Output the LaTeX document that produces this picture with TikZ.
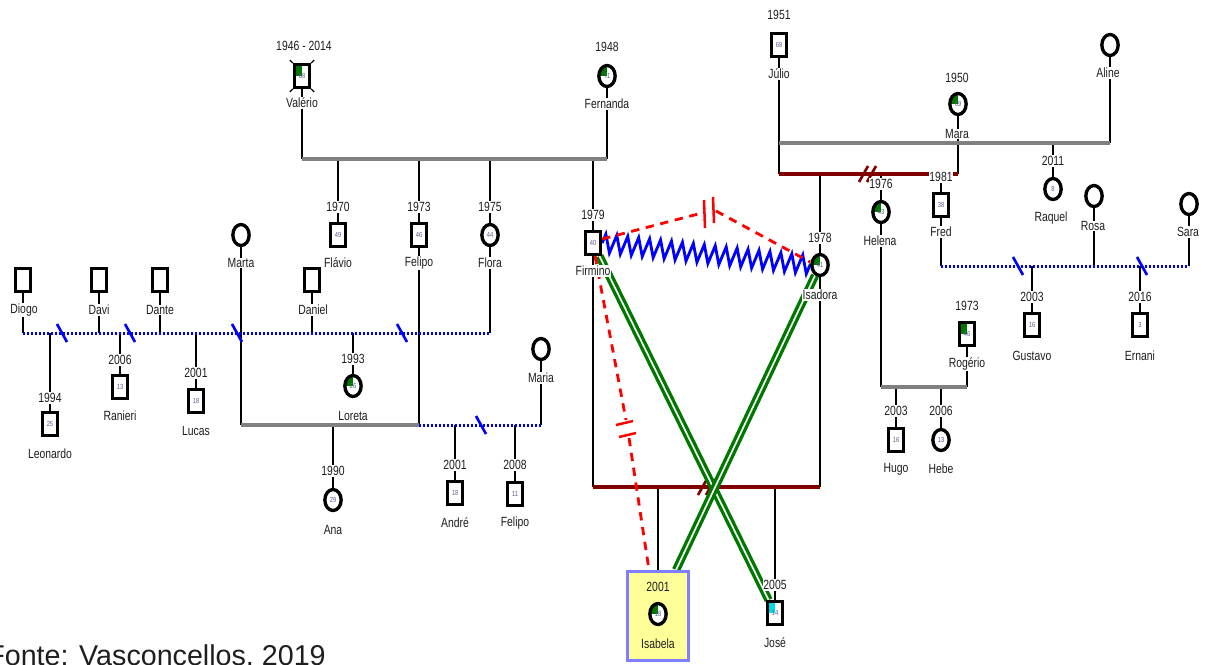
\documentclass[tikz,border=0pt]{standalone}
\usepackage{fontspec}
\usetikzlibrary{shapes.geometric,decorations.pathmorphing,calc}
\newfontfamily\gf[FakeStretch=0.78]{Liberation Sans}
\newfontfamily\cf{Liberation Sans}
\newcommand\labfont{\gf\fontsize{8}{9}\selectfont}
\newcommand\agefont{\gf\fontsize{4.4}{5}\selectfont}
\definecolor{qgreen}{RGB}{0,120,0}
\definecolor{qcyan}{RGB}{0,220,230}
\definecolor{grayc}{RGB}{128,128,128}
\definecolor{dred}{RGB}{128,0,0}
\definecolor{labc}{RGB}{30,30,30}
\definecolor{agec}{RGB}{90,90,140}
\definecolor{boxy}{RGB}{255,255,153}
\definecolor{boxb}{RGB}{128,128,255}
\pgfdeclarelayer{bg}
\pgfsetlayers{bg,main}
\tikzset{
 sym/.style={draw=black, line width=2pt, fill=white, inner sep=0pt, font=\agefont, text=agec},
 sq/.style={sym, rectangle, minimum width=9pt, minimum height=13.5pt},
 ci/.style={sym, ellipse, minimum width=9.8pt, minimum height=12.6pt},
 gq/.style={path picture={\fill[qgreen] (path picture bounding box.center) rectangle (path picture bounding box.north west);}},
 cq/.style={path picture={\fill[qcyan] (path picture bounding box.center) rectangle (path picture bounding box.north west);}},
 lab/.style={font=\labfont, fill=white, inner sep=0.5pt, text=labc},
 blk/.style={draw=black, line width=1.7pt},
 gry/.style={draw=grayc, line width=2.4pt},
 bdot/.style={draw=blue, line width=1.8pt, dash pattern=on 1.4pt off 1pt},
 bsl/.style={draw=blue, line width=1.6pt},
 drl/.style={draw=dred, line width=2.4pt},
 dsl/.style={draw=dred, line width=1.6pt},
 rdash/.style={draw=red, line width=1.7pt, dash pattern=on 5pt off 4pt},
 rbar/.style={draw=red, line width=1.5pt},
 zz/.style={draw=blue, line width=1.7pt, decorate, decoration={zigzag, segment length=6.6pt, amplitude=5.5pt}},
 grn/.style={draw=qgreen, line width=2pt, double=white, double distance=1pt},
 tick/.style={draw=black, line width=0.8pt},
}
\begin{document}
\begin{tikzpicture}[x=0.6pt,y=-0.6pt]
\useasboundingbox (0,0) rectangle (1208,664);
% ---------- persons: top generation ----------
\node[sq,gq] (val) at (302,76) {68};
\node[lab] (valy) at (304,46) {1946 - 2014};
\node[lab] (valn) at (302,103) {Valério};
\node[ci,gq] (fer) at (607,76) {71};
\node[lab] (fery) at (607,47) {1948};
\node[lab] (fern) at (607,104) {Fernanda};
\node[sq] (fla) at (338,235) {49};
\node[lab] (flay) at (338,207) {1970};
\node[lab] (flan) at (338,263) {Flávio};
\node[sq] (fel) at (419,235) {46};
\node[lab] (fely) at (419,207) {1973};
\node[lab] (feln) at (419,263) {Felipo};
\node[ci] (flo) at (490,235) {44};
\node[lab] (floy) at (490,207) {1975};
\node[lab] (flon) at (490,263) {Flora};
\node[sq] (fir) at (593,243) {40};
\node[lab] (firy) at (593,215) {1979};
\node[lab] (firn) at (593,271) {Firmino};
% ---------- left ----------
\node[sq] (dio) at (23,280) {};
\node[lab] (dion) at (24,310) {Diogo};
\node[sq] (dav) at (99,280) {};
\node[lab] (davn) at (99,310) {Davi};
\node[sq] (dte) at (160,280) {};
\node[lab] (dten) at (160,310) {Dante};
\node[ci] (mta) at (241,235) {};
\node[lab] (mtan) at (241,263) {Marta};
\node[sq] (dnl) at (312,280) {};
\node[lab] (dnln) at (313,310) {Daniel};
\node[sq] (leo) at (50,424) {25};
\node[lab] (leoy) at (50,398) {1994};
\node[lab] (leon) at (50,454) {Leonardo};
\node[sq] (ran) at (120,387) {13};
\node[lab] (rany) at (120,360) {2006};
\node[lab] (rann) at (120,416) {Ranieri};
\node[sq] (luc) at (196,401) {18};
\node[lab] (lucy) at (196,373) {2001};
\node[lab] (lucn) at (196,431) {Lucas};
\node[ci,gq] (lor) at (353,386) {26};
\node[lab] (lory) at (353,359) {1993};
\node[lab] (lorn) at (353,416) {Loreta};
\node[ci] (ana) at (333,500) {29};
\node[lab] (anay) at (333,471) {1990};
\node[lab] (anan) at (333,530) {Ana};
\node[ci] (mai) at (541,349) {};
\node[lab] (main) at (541,378) {Maria};
\node[sq] (and) at (455,493) {18};
\node[lab] (andy) at (455,465) {2001};
\node[lab] (andn) at (455,523) {André};
\node[sq] (fe2) at (515,494) {11};
\node[lab] (fe2y) at (515,465) {2008};
\node[lab] (fe2n) at (515,523) {Felipo};
% ---------- centre ----------
\node[ci,gq] (isa) at (820,265) {41};
\node[lab] (isay) at (820,238) {1978};
\node[lab] (isan) at (820,295) {Isadora};
\node[draw=boxb, line width=1.8pt, fill=boxy, inner sep=0pt, minimum width=36.6pt, minimum height=53.4pt] (isabox) at (658,616) {};
\node[ci,gq] (isb) at (658,614) {18};
\node[lab,fill=none] (isby) at (658,587) {2001};
\node[lab,fill=none] (isbn) at (658,644) {Isabela};
\node[sq,cq] (jos) at (775,613) {14};
\node[lab] (josy) at (775,585) {2005};
\node[lab] (josn) at (775,643) {José};
% ---------- right ----------
\node[sq] (jul) at (779,45) {68};
\node[lab] (july) at (779,15) {1951};
\node[lab] (juln) at (779,74) {Júlio};
\node[ci,gq] (mra) at (958,104) {69};
\node[lab] (mray) at (957,78) {1950};
\node[lab] (mran) at (957,134) {Mara};
\node[ci] (ali) at (1110,45) {};
\node[lab] (alin) at (1108,73) {Aline};
\node[ci] (raq) at (1053,189) {8};
\node[lab] (raqy) at (1053,161) {2011};
\node[lab] (raqn) at (1051,218) {Raquel};
\node[ci,gq] (hel) at (881,212) {43};
\node[lab] (hely) at (881,184) {1976};
\node[lab] (heln) at (880,241) {Helena};
\node[sq] (fre) at (941,205) {38};
\node[lab] (frey) at (941,177) {1981};
\node[lab] (fren) at (941,232) {Fred};
\node[ci] (ros) at (1094,196) {};
\node[lab] (rosn) at (1093,226) {Rosa};
\node[ci] (sar) at (1189,204) {};
\node[lab] (sarn) at (1188,232) {Sara};
\node[sq] (gus) at (1032,325) {16};
\node[lab] (gusy) at (1032,297) {2003};
\node[lab] (gusn) at (1032,356) {Gustavo};
\node[sq] (ern) at (1140,325) {3};
\node[lab] (erny) at (1140,297) {2016};
\node[lab] (ernn) at (1140,356) {Ernani};
\node[sq,gq] (rog) at (967,334) {46};
\node[lab] (rogy) at (967,306) {1973};
\node[lab] (rogn) at (967,364) {Rogério};
\node[sq] (hug) at (896,440) {16};
\node[lab] (hugy) at (896,411) {2003};
\node[lab] (hugn) at (896,469) {Hugo};
\node[ci] (heb) at (941,440) {13};
\node[lab] (heby) at (941,411) {2006};
\node[lab] (hebn) at (941,469) {Hebe};
% deceased ticks on Valério
\draw[tick] (val.north west) -- ++(-3,-3);
\draw[tick] (val.north east) -- ++(3,-3);
\draw[tick] (val.south west) -- ++(-3,3);
\draw[tick] (val.south east) -- ++(3,3);
% caption
\node[anchor=base west, inner sep=0pt, font=\cf\fontsize{17.2}{19}\selectfont, text=labc] (src) at (-13,665) {Fonte: Vasconcellos, 2019};
% ---------- coordinates ----------
\coordinate (vf1) at (302,159); \coordinate (vf2) at (607,159);
\coordinate (bl1) at (23,333);  \coordinate (bl2) at (490,333);
\coordinate (mf1) at (241,425); \coordinate (mf2) at (419,425);
\coordinate (fm2) at (541,425);
\coordinate (fi1) at (593,487); \coordinate (fi2) at (820,487);
\coordinate (ja1) at (779,143); \coordinate (ja2) at (1110,143);
\coordinate (jm1) at (779,174); \coordinate (jm2) at (958,174);
\coordinate (hr1) at (881,387); \coordinate (hr2) at (967,387);
\coordinate (fs1) at (941,266); \coordinate (fs2) at (1189,266);
\coordinate (rk1) at (702,213); \coordinate (rk2) at (716,211);
\coordinate (rk3) at (626,420); \coordinate (rk4) at (629,438);
% ---------- connectors ----------
\begin{pgfonlayer}{bg}
% Valério - Fernanda
\draw[blk] (val) -- (vf1);
\draw[blk] (fer) -- (vf2);
\draw[blk] (fla) -- (fla |- vf1);
\draw[blk] (fel) -- (fel |- vf1);
\draw[blk] (flo) -- (flo |- vf1);
\draw[blk] (fir) -- (fir |- vf1);
\draw[gry] (vf1) -- (vf2);
% left relationships
\draw[blk] (dio) -- (bl1);
\draw[blk] (dav) -- (dav |- bl1);
\draw[blk] (dte) -- (dte |- bl1);
\draw[blk] (dnl) -- (dnl |- bl1);
\draw[blk] (flo) -- (bl2);
\draw[blk] (leo) -- (leo |- bl1);
\draw[blk] (ran) -- (ran |- bl1);
\draw[blk] (luc) -- (luc |- bl1);
\draw[blk] (lor) -- (lor |- bl1);
\draw[blk] (mta) -- (mf1);
\draw[blk] (fel) -- (mf2);
\draw[blk] (ana) -- (ana |- mf1);
\draw[blk] (mai) -- (fm2);
\draw[blk] (and) -- (and |- mf1);
\draw[blk] (fe2) -- (fe2 |- mf1);
\draw[gry] (mf1) -- (mf2);
\draw[bdot] (bl1) -- (bl2);
\draw[bdot] (mf2) -- (fm2);
\foreach \sx in {62,130,237,402} \draw[bsl] (\sx,333) ++(-5,-9) -- ++(10,18);
\draw[bsl] (481,425) ++(-5,-9) -- ++(10,18);
% Firmino - Isadora
\draw[blk] (fir) -- (fi1);
\draw[blk] (isa) -- (fi2);
\draw[blk] (isabox) -- (isabox |- fi1);
\draw[blk] (jos) -- (jos |- fi1);
\draw[drl] (fi1) -- (fi2);
\draw[dsl] (698,495) -- ++(9,-16);
\draw[dsl] (706,495) -- ++(9,-16);
% Júlio - Mara - Aline
\draw[blk] (jul) -- (jm1);
\draw[blk] (ali) -- (ja2);
\draw[blk] (mra) -- (jm2);
\draw[blk] (raq) -- (raq |- ja1);
\draw[blk] (isa) -- (isa |- jm1);
\draw[blk] (hel) -- (hel |- jm1);
\draw[blk] (fre) -- (fre |- jm1);
\draw[gry] (ja1) -- (ja2);
\draw[drl] (jm1) -- (jm2);
\draw[dsl] (859,182) -- ++(9,-16);
\draw[dsl] (867,182) -- ++(9,-16);
% Helena - Rogério
\draw[blk] (hel) -- (hr1);
\draw[blk] (rog) -- (hr2);
\draw[blk] (hug) -- (hug |- hr1);
\draw[blk] (heb) -- (heb |- hr1);
\draw[gry] (hr1) -- (hr2);
% Fred - Rosa - Sara
\draw[blk] (fre) -- (fs1);
\draw[blk] (ros) -- (ros |- fs1);
\draw[blk] (sar) -- (fs2);
\draw[blk] (gus) -- (gus |- fs1);
\draw[blk] (ern) -- (ern |- fs1);
\draw[bdot] (fs1) -- (fs2);
\draw[bsl] (1018,266) ++(-5,-9) -- ++(10,18);
\draw[bsl] (1142,266) ++(-5,-9) -- ++(10,18);
% emotional relationships
\draw[grn] (fir) -- (jos);
\draw[grn] (isa) -- ($(isabox.north)+(18,0)$);
\draw[zz] (fir.east) -- (isa.west);
\draw[rdash] ($(fir.east)+(0,-4)$) -- (rk1);
\draw[rdash] (rk2) -- ($(isa.west)+(0,-3)$);
\draw[rbar] (704,200) -- (705,228);
\draw[rbar] (713,197) -- (714,223);
\draw[rdash] ($(fir.south)+(2,0)$) -- (rk3);
\draw[rdash] (rk4) -- ($(isabox.north)+(-9,0)$);
\draw[rbar] (616,425) -- (633,421);
\draw[rbar] (619,437) -- (636,433);
\end{pgfonlayer}
\end{tikzpicture}
\end{document}
